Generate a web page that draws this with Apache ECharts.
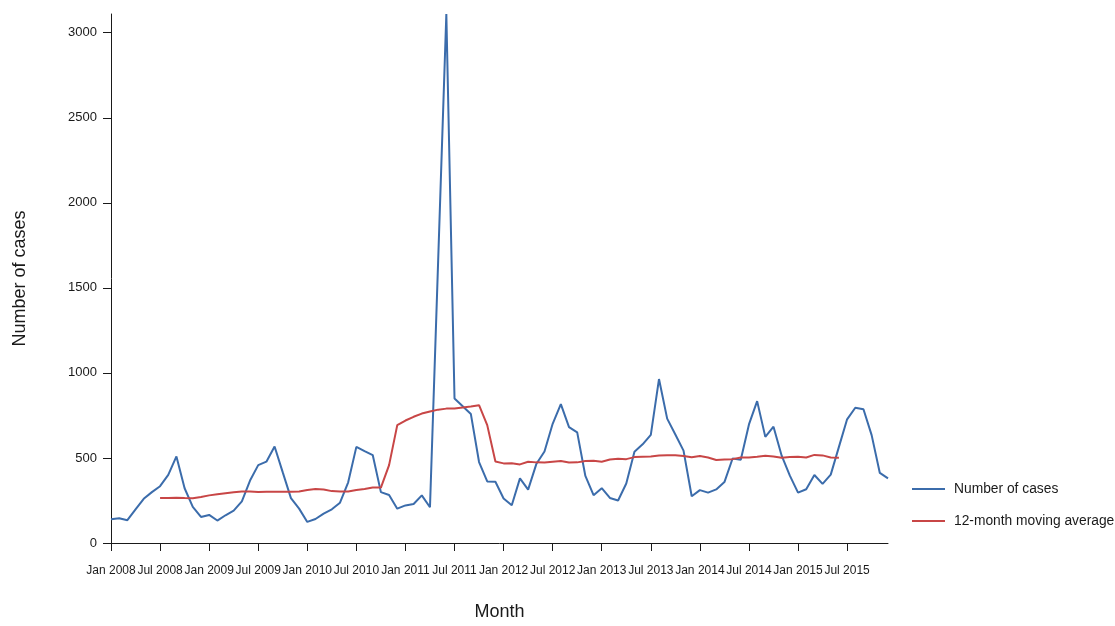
<!DOCTYPE html>
<html>
<head>
<meta charset="utf-8">
<title>Monthly cases</title>
<script src="https://cdn.jsdelivr.net/npm/echarts@6/dist/echarts.min.js"></script>
<style>
  html, body { margin: 0; padding: 0; background: #fff; }
  #chart { width: 1115px; height: 626px; }
</style>
</head>
<body>
<div id="chart"></div>
<script>
// Month names and years for the category axis (Jan 2008 – Dec 2015)
const monthNames = ['Jan', 'Feb', 'Mar', 'Apr', 'May', 'Jun', 'Jul', 'Aug', 'Sep', 'Oct', 'Nov', 'Dec'];
const years = [2008, 2009, 2010, 2011, 2012, 2013, 2014, 2015];

// Reported cases per month
const cases = [
  140, 146, 134, 198, 260, 299, 334, 400, 509, 322, 212, 153,
  165, 132, 163, 190, 245, 367, 458, 478, 567, 415, 264, 202,
  124, 141, 173, 198, 237, 357, 565, 540, 517, 299, 282, 202,
  221, 229, 280, 210, 1660, 3110, 850, 804, 758, 476, 362, 360,
  262, 222, 380, 314, 464, 538, 701, 816, 681, 650, 394, 281,
  322, 265, 250, 350, 537, 580, 636, 964, 731, 638, 543, 275,
  311, 296, 315, 358, 497, 490, 697, 834, 624, 684, 513, 396,
  296, 316, 400, 348, 402, 565, 727, 795, 786, 634, 412, 380
];

// 12-month moving average (undefined at both ends of the series)
const movingAvg = [
  null, null, null, null, null, null, 264, 265, 266, 264, 263, 270,
  280, 287, 293, 299, 303, 303, 300, 301, 301, 301, 301, 303,
  311, 317, 315, 305, 303, 303, 311, 318, 326, 326, 458, 693,
  720, 742, 761, 773, 784, 790, 791, 797, 802, 810, 693, 479,
  468, 469, 462, 478, 474, 473, 478, 482, 473, 474, 482, 483,
  478, 491, 495, 493, 505, 507, 509, 514, 516, 516, 512, 504,
  511, 503, 488, 491, 493, 503, 503, 507, 513, 509, 501, 505,
  507, 503, 518, 515, 503, 501, null, null, null, null, null, null
];

// Value-axis ticks
const yTicks = [0, 500, 1000, 1500, 2000, 2500, 3000];
// Labelled months on the time axis: every January and July, Jan 2008 – Jul 2015
const xTicks = ['Jan 2008', 'Jul 2008', 'Jan 2009', 'Jul 2009', 'Jan 2010', 'Jul 2010',
  'Jan 2011', 'Jul 2011', 'Jan 2012', 'Jul 2012', 'Jan 2013', 'Jul 2013',
  'Jan 2014', 'Jul 2014', 'Jan 2015', 'Jul 2015'];

const categories = [];
years.forEach(function (y) {
  monthNames.forEach(function (m) { categories.push(m + ' ' + y); });
});
const xTickIndex = xTicks.map(function (t) { return categories.indexOf(t); });

const FONT = '"Liberation Sans", Arial, sans-serif';
const BLUE = '#3b6cab';
const RED = '#c84646';
const AXIS = '#1a1a1a';
const TEXT = '#1a1a1a';

const chart = echarts.init(document.getElementById('chart'), null, { renderer: 'canvas' });

chart.setOption({
  animation: false,
  backgroundColor: '#ffffff',
  textStyle: { fontFamily: FONT },
  grid: { left: 111, right: 227, top: 14, bottom: 78 },
  legend: {
    orient: 'vertical',
    left: 907,
    top: 477,
    itemWidth: 33,
    itemHeight: 14,
    itemGap: 18,
    icon: 'path://M0,0 L33,0 L33,2 L0,2 Z',
    textStyle: { fontFamily: FONT, fontSize: 13.8, color: TEXT, padding: [0, 0, 0, 4] },
    data: [
      { name: 'Number of cases', itemStyle: { color: BLUE } },
      { name: '12-month moving average', itemStyle: { color: RED } }
    ]
  },
  xAxis: {
    type: 'category',
    data: categories,
    boundaryGap: false,
    name: 'Month',
    nameLocation: 'middle',
    nameGap: 60,
    nameTextStyle: { fontFamily: FONT, fontSize: 18, color: TEXT },
    axisLine: { show: true, lineStyle: { color: AXIS, width: 1 } },
    axisTick: { show: true, length: 8, lineStyle: { color: AXIS }, customValues: xTickIndex },
    axisLabel: {
      margin: 22, fontFamily: FONT, fontSize: 12, color: TEXT,
      customValues: xTickIndex, hideOverlap: false
    },
    splitLine: { show: false }
  },
  yAxis: {
    type: 'value',
    min: 0,
    max: 3110,
    interval: 500,
    name: 'Number of cases',
    nameLocation: 'middle',
    nameGap: 82,
    nameRotate: 90,
    nameTextStyle: { fontFamily: FONT, fontSize: 18, color: TEXT },
    axisLine: { show: true, lineStyle: { color: AXIS, width: 1 } },
    axisTick: { show: true, length: 8, lineStyle: { color: AXIS }, customValues: yTicks },
    axisLabel: {
      margin: 14, fontFamily: FONT, fontSize: 13, color: TEXT, customValues: yTicks,
      formatter: function (v) { return String(v); }
    },
    splitLine: { show: false }
  },
  series: [
    {
      name: 'Number of cases',
      type: 'line',
      data: cases,
      symbol: 'none',
      lineStyle: { color: BLUE, width: 2 },
      itemStyle: { color: BLUE },
      z: 2
    },
    {
      name: '12-month moving average',
      type: 'line',
      data: movingAvg,
      symbol: 'none',
      connectNulls: false,
      lineStyle: { color: RED, width: 2 },
      itemStyle: { color: RED },
      z: 3
    }
  ]
});
</script>
</body>
</html>
